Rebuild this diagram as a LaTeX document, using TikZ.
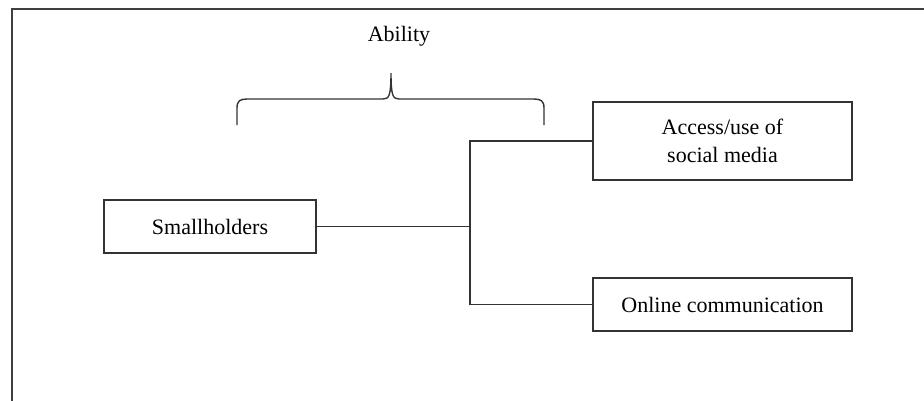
\documentclass[tikz,border=0pt]{standalone}
\usepackage{fontspec}
\setmainfont{Liberation Serif}
\begin{document}
\begin{tikzpicture}[x=1pt,y=-1pt,
  ln/.style={draw=black!80,line width=1.6pt},
  box/.style={ln,rectangle,inner sep=0pt,align=center,font=\fontsize{22}{28}\selectfont},
  lbl/.style={font=\fontsize{22}{28}\selectfont}]
\useasboundingbox (0,0) rectangle (924,400);
\fill[white] (0,0) rectangle (924,400);
% frame
\draw[draw=black!75,line width=1.6pt] (12,402) -- (12,9) -- (926,9);
% nodes
\node[box,minimum width=212pt,minimum height=53pt] (s) at (210,226.5) {Smallholders};
\node[box,minimum width=259pt,minimum height=78pt] (a) at (722.5,141) {Access/use of\\social media};
\node[box,minimum width=259pt,minimum height=53pt] (o) at (722.5,304.5) {Online communication};
\node[lbl] (ab) at (399,36) {Ability};
\coordinate (j) at (470,226.5);
% connectors
\draw[ln] (s.east) -- (j);
\draw[ln] (a.west) -| (j) |- (o.west);
% brace
\draw[ln,line width=1.4pt] (237,125) -- (237,108) .. controls (237,101) and (240,99) .. (247,99)
  -- (383,99) .. controls (389,99) and (391,96) .. (391,73)
  .. controls (391,96) and (393,99) .. (399,99)
  -- (534,99) .. controls (541,99) and (544,101) .. (544,108) -- (544,125);
\end{tikzpicture}
\end{document}
